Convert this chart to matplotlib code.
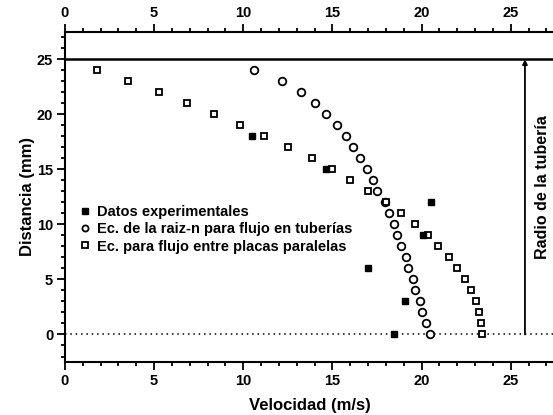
import numpy as np
import matplotlib as mpl
import matplotlib.pyplot as plt
from matplotlib.ticker import MultipleLocator

mpl.rc('font', family=['Liberation Sans', 'DejaVu Sans'], weight='bold', size=10)
mpl.rc('axes', labelweight='bold')

# distance from the wall (mm)
dist_model = np.arange(0, 25)
# velocity, n-th root law for pipe flow (m/s)
vel_pipe = [20.45, 20.25, 20.05, 19.9, 19.65, 19.5, 19.25, 19.1, 18.85, 18.65,
            18.45, 18.15, 17.95, 17.5, 17.25, 16.95, 16.55, 16.15, 15.75, 15.25,
            14.65, 14.05, 13.25, 12.15, 10.6]
# velocity, flow between parallel plates (m/s)
vel_plates = [23.4, 23.35, 23.25, 23.05, 22.8, 22.45, 22.0, 21.55, 20.95, 20.35,
              19.65, 18.85, 18.0, 17.0, 16.0, 14.95, 13.85, 12.5, 11.15, 9.8,
              8.35, 6.85, 5.28, 3.56, 1.77]
# experimental data
dist_exp = [0, 3, 6, 9, 12, 15, 18]
vel_exp = [18.45, 19.05, 17.0, 20.1, 20.55, 14.65, 10.5]

radius = 25
labels = ['Datos experimentales',
          'Ec. de la raiz-n para flujo en tuberías',
          'Ec. para flujo entre placas paralelas']

fig = plt.figure(figsize=(5.53, 4.15), dpi=100)
ax = fig.add_axes((0.1175, 0.1277, 0.8866, 0.7958))

ax.plot(vel_exp, dist_exp, 's', color='k', ms=5, mew=1, label=labels[0], zorder=4)
ax.plot(vel_pipe, dist_model, 'o', mfc='white', mec='k', ms=5.5, mew=1.3,
        label=labels[1], zorder=3)
ax.plot(vel_plates, dist_model, 's', mfc='white', mec='k', ms=4.8, mew=1.3,
        label=labels[2], zorder=3)

ax.axhline(radius, color='k', lw=1.8, zorder=2)
ax.axhline(0, color='k', lw=1.1, ls=(0, (1, 2.5)), zorder=1)
ax.annotate('', xy=(25.8, radius), xytext=(25.8, 0),
            arrowprops=dict(arrowstyle='-|>', color='k', lw=1.3,
                            mutation_scale=7, shrinkA=0, shrinkB=0))
ax.text(26.8, 13.4, 'Radio de la tubería', rotation=90, ha='center',
        va='center', fontsize=11.5)

ax.set_xlim(0, 27.5)
ax.set_ylim(-2.5, 27.5)
ax.xaxis.set_major_locator(MultipleLocator(5))
ax.xaxis.set_minor_locator(MultipleLocator(1))
ax.yaxis.set_major_locator(MultipleLocator(5))
ax.yaxis.set_minor_locator(MultipleLocator(1))

for side in ['left', 'bottom', 'top']:
    ax.spines[side].set_linewidth(1.5)
ax.spines['right'].set_visible(False)
ax.tick_params(which='both', direction='out', width=1.3, top=True,
               labeltop=True, right=False, labelsize=10.5)
ax.tick_params(which='major', length=5.5, pad=3)
ax.tick_params(which='minor', length=3)

ax.set_xlabel('Velocidad (m/s)', fontsize=12, labelpad=7)
ax.set_ylabel('Distancia (mm)', fontsize=12, labelpad=1.5)

ax.legend(loc='upper left', bbox_to_anchor=(0.032, 0.475), frameon=False,
          fontsize=10.5, handlelength=0.6, handletextpad=0.5,
          labelspacing=0.22, borderpad=0, borderaxespad=0, markerscale=0.8)

fig.savefig('out.png', dpi=100)
